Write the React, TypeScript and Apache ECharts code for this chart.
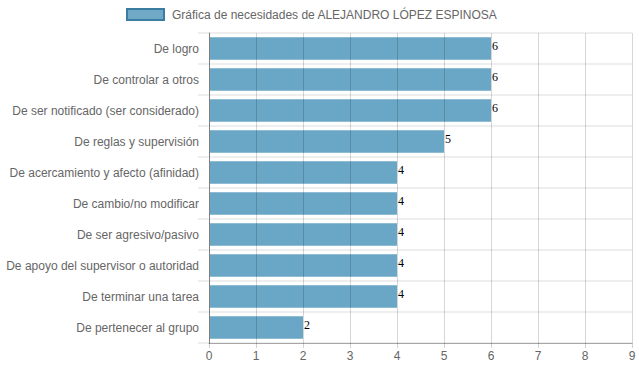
import React, { useEffect, useRef } from "react";
import * as echarts from "echarts";

const categories = [
  "De logro",
  "De controlar a otros",
  "De ser notificado (ser considerado)",
  "De reglas y supervisión",
  "De acercamiento y afecto (afinidad)",
  "De cambio/no modificar",
  "De ser agresivo/pasivo",
  "De apoyo del supervisor o autoridad",
  "De terminar una tarea",
  "De pertenecer al grupo",
];
const values = [6, 6, 6, 5, 4, 4, 4, 4, 4, 2];
const seriesName = "Gráfica de necesidades de ALEJANDRO LÓPEZ ESPINOSA";

export default function App() {
  const ref = useRef<HTMLDivElement>(null);
  useEffect(() => {
    if (!ref.current) return;
    const chart = echarts.init(ref.current, null, { renderer: "svg" });
    chart.setOption({
      animation: false,
      textStyle: { fontFamily: "Liberation Sans, Arial, sans-serif" },
      legend: {
        top: 3,
        left: 121,
        icon: "rect",
        itemWidth: 37,
        itemHeight: 11,
        textStyle: { color: "#666", fontSize: 12, padding: [0, 0, 0, 3] },
        data: [{ name: seriesName, itemStyle: { color: "#6fa9c6", borderColor: "#3b7ca3", borderWidth: 2 } }],
      },
      grid: { left: 209, right: 7, top: 33, bottom: 29, containLabel: false },
      xAxis: {
        type: "value",
        min: 0,
        max: 9,
        interval: 1,
        z: 5,
        axisLine: { show: true, lineStyle: { color: "rgba(0,0,0,0.3)", width: 1 } },
        axisTick: { show: true, length: 5, lineStyle: { color: "rgba(0,0,0,0.18)" } },
        axisLabel: { color: "#666", fontSize: 12, margin: 7 },
        splitLine: { show: true, lineStyle: { color: "rgba(0,0,0,0.16)", width: 1 } },
      },
      yAxis: {
        type: "category",
        inverse: true,
        data: categories,
        z: 4,
        axisLine: { show: true, lineStyle: { color: "#999", width: 1 } },
        axisTick: { show: true, length: 11, lineStyle: { color: "#eeeeee", width: 2 } },
        axisLabel: { color: "#666", fontSize: 12, margin: 10 },
        splitLine: { show: true, lineStyle: { color: "#eeeeee", width: 2 } },
      },
      series: [
        {
          name: seriesName,
          type: "bar",
          data: values,
          z: 1,
          barCategoryGap: "28%",
          itemStyle: { color: "#6aa6c5" },
          label: {
            show: true,
            position: "right",
            distance: 1,
            offset: [0, -3],
            color: "#000",
            fontSize: 12,
            fontFamily: "Liberation Serif, serif",
          },
        },
      ],
    });
    return () => chart.dispose();
  }, []);
  return (
    <div
      ref={ref}
      style={{ position: "absolute", left: 0, top: 0, width: 639, height: 372 }}
    />
  );
}
